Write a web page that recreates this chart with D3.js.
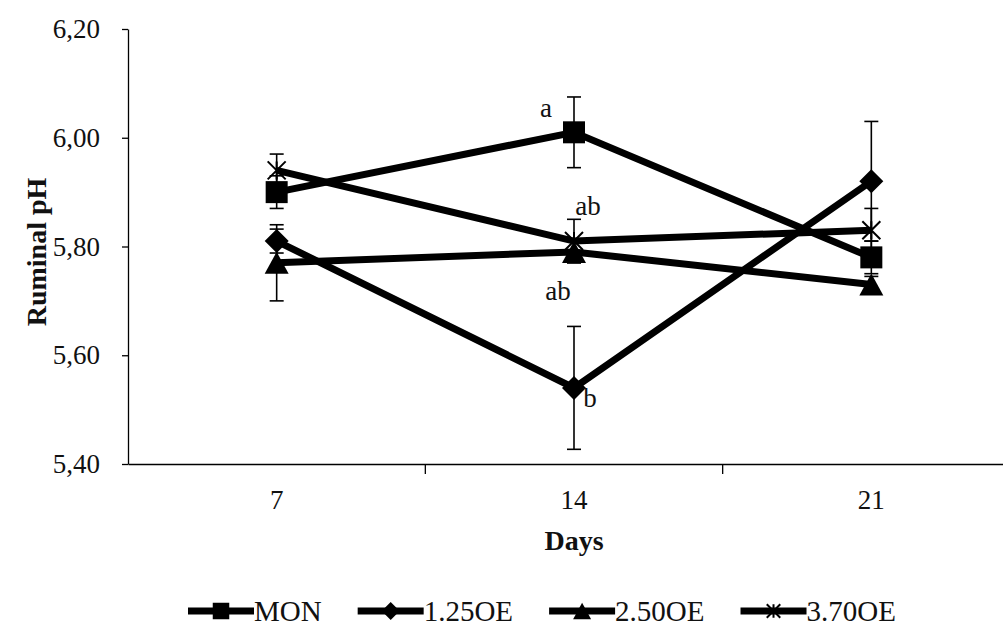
<!DOCTYPE html>
<html>
<head>
<meta charset="utf-8">
<script src="https://cdn.jsdelivr.net/npm/d3@7"></script>
<style>
  body { margin: 0; background: #fff; }
  svg { display: block; font-family: "Liberation Serif", "Times New Roman", serif; }
</style>
</head>
<body>
<svg id="chart" width="1003" height="630"></svg>
<script>
// data
const days = ["7", "14", "21"];
const seriesNames = ["MON", "1.25OE", "2.50OE", "3.70OE"];
const yTicks = [5.40, 5.60, 5.80, 6.00, 6.20];

const monValues = [5.90, 6.01, 5.78];
const monErrors = [0.03, 0.065, 0.03];
const oe125Values = [5.81, 5.54, 5.92];
const oe125Errors = [0.022, 0.113, 0.11];
const oe250Values = [5.77, 5.79, 5.73];
const oe250Errors = [0.07, 0.02, 0.015];
const oe370Values = [5.94, 5.81, 5.83];
const oe370Errors = [0.03, 0.04, 0.04];

// significance letters at day 14
const letterText = ["a", "b", "ab", "ab"];
const letterSeries = ["MON", "1.25OE", "2.50OE", "3.70OE"];

const series = [
  { name: seriesNames[0], values: monValues, errors: monErrors, marker: "square" },
  { name: seriesNames[1], values: oe125Values, errors: oe125Errors, marker: "diamond" },
  { name: seriesNames[2], values: oe250Values, errors: oe250Errors, marker: "triangle" },
  { name: seriesNames[3], values: oe370Values, errors: oe370Errors, marker: "star" }
];

const svg = d3.select("#chart");
const plotLeft = 128, plotRight = 1020, plotTop = 29, plotBottom = 464;

const x = d3.scaleBand().domain(days).range([plotLeft, plotRight]).padding(0);
const cx = d => x(d) + x.bandwidth() / 2;
const y = d3.scaleLinear().domain([5.4, 6.2]).range([plotBottom, plotTop]);

// y axis
const yAxis = svg.append("g")
  .attr("transform", "translate(" + plotLeft + ",0)")
  .call(d3.axisLeft(y).tickValues(yTicks).tickSize(6).tickSizeOuter(0)
    .tickFormat(d => d3.format(".2f")(d).replace(".", ",")));
yAxis.select(".domain").attr("stroke", "#000").attr("stroke-width", 1.3);
yAxis.selectAll(".tick line").attr("stroke", "#000").attr("stroke-width", 1.3);
yAxis.selectAll(".tick text").attr("x", -28).attr("font-size", 27)
  .attr("fill", "#111").style("font-family", "Liberation Serif");

// x axis
const xAxis = svg.append("g")
  .attr("transform", "translate(0," + plotBottom + ")")
  .call(d3.axisBottom(x).tickSize(0).tickSizeOuter(0));
xAxis.select(".domain").attr("stroke", "#000").attr("stroke-width", 1.3);
xAxis.selectAll(".tick text").attr("y", 45).attr("dy", 0).attr("font-size", 27)
  .attr("fill", "#111").style("font-family", "Liberation Serif");
// tick marks sit between categories
xAxis.selectAll(".bound").data(days.slice(1)).enter().append("line")
  .attr("x1", d => x(d)).attr("x2", d => x(d))
  .attr("y1", 0).attr("y2", 10)
  .attr("stroke", "#000").attr("stroke-width", 1.3);

// axis titles
svg.append("text")
  .attr("transform", "translate(46,252) rotate(-90)")
  .attr("text-anchor", "middle")
  .attr("font-size", 28).attr("font-weight", "bold").attr("fill", "#111")
  .text("Ruminal pH");
svg.append("text")
  .attr("x", cx("14")).attr("y", 550)
  .attr("text-anchor", "middle")
  .attr("font-size", 28).attr("font-weight", "bold").attr("fill", "#111")
  .text("Days");

// lines
const line = d3.line().x((v, i) => cx(days[i])).y(v => y(v));
svg.append("g").selectAll("path").data(series).enter().append("path")
  .attr("d", s => line(s.values))
  .attr("fill", "none").attr("stroke", "#000").attr("stroke-width", 7)
  .attr("stroke-linejoin", "miter");

// error bars
const errG = svg.append("g").attr("stroke", "#000").attr("stroke-width", 1.6);
series.forEach(s => {
  s.values.forEach((v, i) => {
    const px = cx(days[i]);
    const y1 = y(v + s.errors[i]), y2 = y(v - s.errors[i]);
    errG.append("line").attr("x1", px).attr("x2", px).attr("y1", y1).attr("y2", y2);
    errG.append("line").attr("x1", px - 7).attr("x2", px + 7).attr("y1", y1).attr("y2", y1);
    errG.append("line").attr("x1", px - 7).attr("x2", px + 7).attr("y1", y2).attr("y2", y2);
  });
});

// markers
function drawMarker(g, type, px, py, k) {
  if (type === "square") {
    g.append("rect").attr("x", px - 11 * k).attr("y", py - 11 * k)
      .attr("width", 22 * k).attr("height", 22 * k).attr("fill", "#000");
  } else if (type === "diamond") {
    const r = 12 * k;
    g.append("path").attr("d", "M" + px + "," + (py - r) + "L" + (px + r) + "," + py +
      "L" + px + "," + (py + r) + "L" + (px - r) + "," + py + "Z").attr("fill", "#000");
  } else if (type === "triangle") {
    const h = 11 * k;
    g.append("path").attr("d", "M" + px + "," + (py - h) + "L" + (px + 12 * k) + "," + (py + h) +
      "L" + (px - 12 * k) + "," + (py + h) + "Z").attr("fill", "#000");
  } else {
    const r = 9 * k;
    g.append("path").attr("d",
      "M" + (px - r) + "," + (py - r) + "L" + (px + r) + "," + (py + r) +
      "M" + (px - r) + "," + (py + r) + "L" + (px + r) + "," + (py - r) +
      "M" + px + "," + (py - r) + "L" + px + "," + (py + r))
      .attr("stroke", "#000").attr("stroke-width", 2).attr("fill", "none");
  }
}
const markG = svg.append("g");
series.forEach(s => {
  s.values.forEach((v, i) => drawMarker(markG, s.marker, cx(days[i]), y(v), 1));
});

// letters around day 14
const letterOffsets = { "MON": [-28, -15], "1.25OE": [16, 19], "2.50OE": [-16, 48], "3.70OE": [14, -26] };
svg.append("g").selectAll("text").data(letterText).enter().append("text")
  .attr("x", (t, i) => cx("14") + letterOffsets[letterSeries[i]][0])
  .attr("y", (t, i) => {
    const s = series.find(d => d.name === letterSeries[i]);
    return y(s.values[1]) + letterOffsets[letterSeries[i]][1];
  })
  .attr("text-anchor", "middle").attr("font-size", 27).attr("fill", "#111")
  .text(t => t);

// legend
const legend = svg.append("g").attr("transform", "translate(188,611)");
let lx = 0;
series.forEach(s => {
  const item = legend.append("g").attr("transform", "translate(" + lx + ",0)");
  item.append("line").attr("x1", 0).attr("x2", 66).attr("y1", 0).attr("y2", 0)
    .attr("stroke", "#000").attr("stroke-width", 7);
  drawMarker(item, s.marker, 33, 0, 0.75);
  const t = item.append("text").attr("x", 66).attr("y", 10)
    .attr("font-size", 29).attr("fill", "#111").text(s.name);
  lx += 66 + t.node().getComputedTextLength() + 36;
});
</script>
</body>
</html>
